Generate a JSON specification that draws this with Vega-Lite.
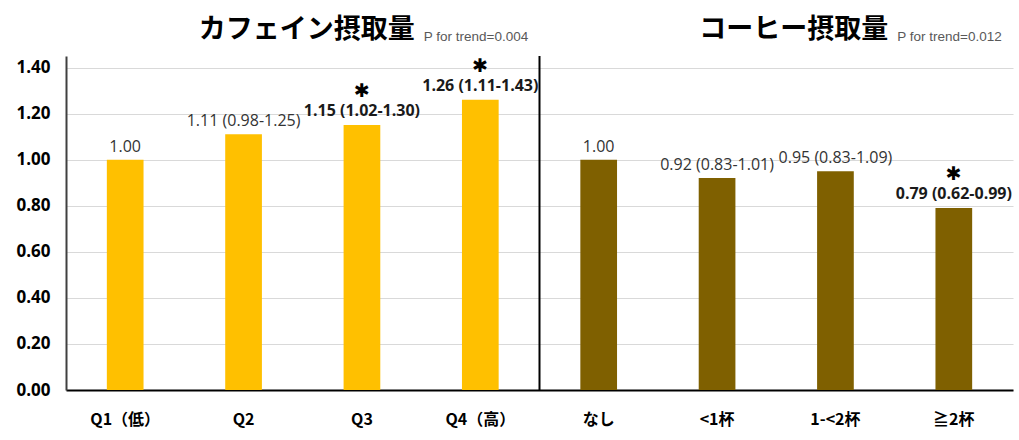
{
  "$schema": "https://vega.github.io/schema/vega-lite/v6.json",
  "width": 947,
  "height": 334,
  "autosize": {"type": "none"},
  "padding": {"left": 66, "top": 56, "right": 6, "bottom": 50},
  "background": "white",
  "config": {"view": {"stroke": null}},
  "datasets": {
    "or": [
      {"cat": "Q1（低）", "group": "カフェイン", "or": 1.00, "label": "1.00", "sig": false},
      {"cat": "Q2", "group": "カフェイン", "or": 1.11, "label": "1.11 (0.98-1.25)", "sig": false},
      {"cat": "Q3", "group": "カフェイン", "or": 1.15, "label": "1.15 (1.02-1.30)", "sig": true},
      {"cat": "Q4（高）", "group": "カフェイン", "or": 1.26, "label": "1.26 (1.11-1.43)", "sig": true},
      {"cat": "なし", "group": "コーヒー", "or": 1.00, "label": "1.00", "sig": false},
      {"cat": "<1杯", "group": "コーヒー", "or": 0.92, "label": "0.92 (0.83-1.01)", "sig": false},
      {"cat": "1-<2杯", "group": "コーヒー", "or": 0.95, "label": "0.95 (0.83-1.09)", "sig": false},
      {"cat": "≧2杯", "group": "コーヒー", "or": 0.79, "label": "0.79 (0.62-0.99)", "sig": true}
    ],
    "titles": [
      {"group": "カフェイン", "title": "カフェイン摂取量", "ptrend": "P for trend=0.004"},
      {"group": "コーヒー", "title": "コーヒー摂取量", "ptrend": "P for trend=0.012"}
    ]
  },
  "layer": [
    {
      "data": {"name": "or"},
      "encoding": {
        "x": {
          "field": "cat",
          "type": "nominal",
          "sort": null,
          "scale": {
            "domain": ["Q1（低）", "Q2", "Q3", "Q4（高）", "なし", "<1杯", "1-<2杯", "≧2杯"],
            "paddingInner": 0.69,
            "paddingOuter": 0.345
          },
          "axis": {
            "title": null,
            "labelAngle": 0,
            "labelFont": "Noto Sans CJK JP",
            "labelFontWeight": "bold",
            "labelFontSize": 16,
            "labelColor": "#000000",
            "labelPadding": 21,
            "ticks": false,
            "grid": false,
            "domainColor": "#000000",
            "domainWidth": 2
          }
        },
        "y": {
          "field": "or",
          "type": "quantitative",
          "scale": {"domain": [0, 1.45], "nice": false, "zero": true},
          "axis": {
            "title": null,
            "values": [0, 0.2, 0.4, 0.6, 0.8, 1.0, 1.2, 1.4],
            "format": ".2f",
            "labelFont": "Open Sans",
            "labelFontWeight": "bold",
            "labelFontSize": 17,
            "labelColor": "#000000",
            "labelPadding": 16,
            "ticks": false,
            "grid": true,
            "gridColor": "#d9d9d9",
            "gridWidth": 1,
            "domainColor": "#404040",
            "domainWidth": 2
          }
        }
      },
      "layer": [
        {
          "mark": {"type": "bar"},
          "encoding": {
            "color": {
              "field": "group",
              "type": "nominal",
              "scale": {"domain": ["カフェイン", "コーヒー"], "range": ["#FFC000", "#7F6000"]},
              "legend": null
            }
          }
        },
        {
          "transform": [{"filter": "!datum.sig"}],
          "mark": {"type": "text", "font": "Open Sans", "fontSize": 16, "color": "#333333", "baseline": "alphabetic", "dy": -8},
          "encoding": {"text": {"field": "label"}}
        },
        {
          "transform": [{"filter": "datum.sig"}],
          "mark": {"type": "text", "font": "Open Sans", "fontSize": 16, "fontWeight": "bold", "color": "#1a1a1a", "baseline": "alphabetic", "dy": -9},
          "encoding": {"text": {"field": "label"}}
        },
        {
          "transform": [{"filter": "datum.sig"}],
          "mark": {"type": "text", "font": "DejaVu Sans", "fontSize": 19, "fontWeight": "bold", "color": "#000000", "baseline": "middle", "dy": -34},
          "encoding": {"text": {"value": "✱"}}
        }
      ]
    },
    {
      "data": {"name": "titles"},
      "encoding": {
        "x": {
          "field": "group",
          "type": "nominal",
          "sort": null,
          "scale": {"domain": ["カフェイン", "コーヒー"], "paddingInner": 0, "paddingOuter": 0},
          "axis": null
        }
      },
      "layer": [
        {
          "transform": [{"filter": "datum.group == 'コーヒー'"}],
          "mark": {"type": "rule", "color": "#000000", "strokeWidth": 2},
          "encoding": {"x": {"field": "group", "type": "nominal", "bandPosition": 0, "axis": null}}
        },
        {
          "mark": {"type": "text", "font": "Noto Sans CJK JP", "fontSize": 27, "fontWeight": "bold", "color": "#000000", "align": "right", "baseline": "alphabetic", "dx": -4},
          "encoding": {
            "x": {"field": "group", "type": "nominal", "bandPosition": 0.745, "axis": null},
            "y": {"datum": 1.528, "type": "quantitative"},
            "text": {"field": "title"}
          }
        },
        {
          "mark": {"type": "text", "font": "Liberation Sans", "fontSize": 13.5, "color": "#595959", "align": "left", "baseline": "alphabetic", "dx": 5},
          "encoding": {
            "x": {"field": "group", "type": "nominal", "bandPosition": 0.745, "axis": null},
            "y": {"datum": 1.515, "type": "quantitative"},
            "text": {"field": "ptrend"}
          }
        }
      ]
    }
  ],
  "resolve": {"scale": {"x": "independent", "color": "independent"}}
}
